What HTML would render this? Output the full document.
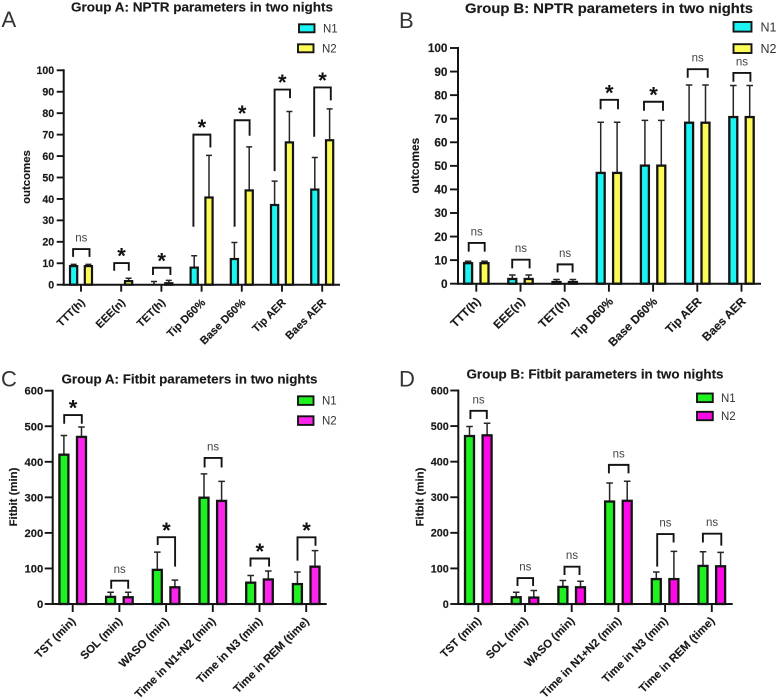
<!DOCTYPE html>
<html lang="en">
<head>
<meta charset="utf-8">
<title>NPTR and Fitbit parameters in two nights</title>
<style>
html,body{margin:0;padding:0;background:#fff;}
body{width:777px;height:698px;overflow:hidden;}
svg{display:block;filter:blur(0.35px);}
text{font-family:"Liberation Sans",sans-serif;fill:#1a1a1a;}
.t{font-weight:bold;stroke:#1a1a1a;stroke-width:0.15px;}
.l{fill:#333;}
</style>
</head>
<body>
<svg id="fig" xmlns="http://www.w3.org/2000/svg" width="777" height="698" viewBox="0 0 777 698">
<text class="l" x="1.5" y="27" font-size="22">A</text>
<text class="l" x="399" y="28" font-size="22">B</text>
<text class="l" x="1" y="386.5" font-size="22">C</text>
<text class="l" x="399" y="386.5" font-size="22">D</text>
<text class="t" x="202" y="11.5" font-size="12.6" text-anchor="middle" textLength="262" lengthAdjust="spacingAndGlyphs">Group A: NPTR parameters in two nights</text>
<text class="t" x="609" y="13" font-size="13.6" text-anchor="middle" textLength="288" lengthAdjust="spacingAndGlyphs">Group B: NPTR parameters in two nights</text>
<text class="t" x="189.5" y="383.5" font-size="12.6" text-anchor="middle" textLength="256" lengthAdjust="spacingAndGlyphs">Group A: Fitbit parameters in two nights</text>
<text class="t" x="595" y="378.5" font-size="12.6" text-anchor="middle" textLength="257" lengthAdjust="spacingAndGlyphs">Group B: Fitbit parameters in two nights</text>
</svg>
<script>
// ---- Panel A data ----
const aCategories = ["TTT(h)","EEE(n)","TET(h)","Tip D60%","Base D60%","Tip AER","Baes AER"];
const aN1 = [9,0,0.3,8.3,12.3,37.5,44.7];
const aN2 = [9,2,1,41,44.3,66.7,67.7];
const aN1Upper = [9.5,0,1.5,13.5,19.7,48.3,59.3];
const aN2Upper = [9.5,3,2,60.3,64.3,80.8,82];
const aSig = ["ns","*","*","*","*","*","*"];
const aBracketTop = [16.6,10.1,7.9,70,76.7,91,92];
const aBracketLeft = [13,6.5,4.5,27,27,53,69];
const aBracketRight = [13,6.5,4.5,64,69.5,87,86];
const aTicks = [0,10,20,30,40,50,60,70,80,90,100];

// ---- Panel B data ----
const bCategories = ["TTT(h)","EEE(n)","TET(h)","Tip D60%","Base D60%","Tip AER","Baes AER"];
const bN1 = [9,2.3,1,47.3,50.4,68.6,71];
const bN2 = [9,2.3,1,47.3,50.4,68.6,71];
const bN1Upper = [9.5,3.7,1.8,68.5,69.3,84.3,84.1];
const bN2Upper = [9.5,3.7,1.8,68.5,69.3,84.3,84.1];
const bSig = ["ns","ns","ns","*","*","ns","ns"];
const bBracketTop = [17.3,10.2,8.2,78,77.2,91,89.4];
const bBracketLeft = [13.6,6.5,4.8,74,73.4,87.4,85.7];
const bBracketRight = [13.6,6.5,4.8,74,73.4,87.4,85.7];
const bTicks = [0,10,20,30,40,50,60,70,80,90,100];

// ---- Panel C data ----
const cCategories = ["TST (min)","SOL (min)","WASO (min)","Time in N1+N2 (min)","Time in N3 (min)","Time in REM (time)"];
const cN1 = [422,22,98,301,62,58];
const cN2 = [472,21,49,292,71,107];
const cN1Upper = [474,33,146,366,80,90];
const cN2Upper = [498,33,67,345,93,150];
const cSig = ["*","ns","*","ns","*","*"];
const cBracketTop = [531.6,65.6,188,411,128,187.5];
const cBracketLeft = [507,43,166,384,105,122];
const cBracketRight = [507,43,105,384,105,164];
const cTicks = [0,100,200,300,400,500,600];

// ---- Panel D data ----
const dCategories = ["TST (min)","SOL (min)","WASO (min)","Time in N1+N2 (min)","Time in N3 (min)","Time in REM (time)"];
const dN1 = [474,21,50,290,72,109];
const dN2 = [476,20,49,292,72,108];
const dN1Upper = [499,33,66,340,90,147];
const dN2Upper = [508,38,64,345,148,145];
const dSig = ["ns","ns","ns","ns","ns","ns"];
const dBracketTop = [543,73,105,391,196.6,197.5];
const dBracketLeft = [520,50.6,81.5,367,105,173];
const dBracketRight = [520,50.6,81.5,367,173,164];
const dTicks = [0,100,200,300,400,500,600];

const seriesNames = ["N1","N2"];

const svg = document.getElementById('fig');
const NS = 'http://www.w3.org/2000/svg';
const INK = '#141414';

function mk(parent, tag, attrs, txt) {
  const e = document.createElementNS(NS, tag);
  for (const k in attrs) e.setAttribute(k, attrs[k]);
  if (txt !== undefined) e.textContent = txt;
  parent.appendChild(e);
  return e;
}

function drawPanel(p) {
  const g = mk(svg, 'g', {});
  
  
  const yMax = p.ticks[p.ticks.length - 1];
  const yScale = v => p.y0 - (v / yMax) * (p.y0 - p.yTop);
  const xScale = i => p.x1st + i * p.step;

  // bars and error bars
  p.categories.forEach((cat, i) => {
    [[p.n1, p.n1Upper, -p.off, p.colors[0], 'n1'], [p.n2, p.n2Upper, p.off, p.colors[1], 'n2']].forEach(s => {
      const v = s[0][i], up = s[1][i], cx = xScale(i) + s[2];
      if (up > v) {
        const eb = mk(g, 'path', {
          d: 'M' + cx + ' ' + yScale(v) + 'V' + yScale(up) + 'M' + (cx - p.cap) + ' ' + yScale(up) + 'H' + (cx + p.cap),
          fill: 'none', stroke: '#262626', 'stroke-width': 1.5
        });
        
        
      }
      if (v > 0) {
        const top = Math.min(yScale(v) + 0.7, p.y0);
        const bar = mk(g, 'rect', {
          x: cx - p.barW / 2, y: top, width: p.barW, height: p.y0 - top,
          fill: s[3], stroke: INK, 'stroke-width': p.barStroke
        });
        
        
      }
    });
  });

  // axes
  const yAxis = mk(g, 'path', {
    d: 'M' + p.x0 + ' ' + (p.y0 + 1) + 'V' + (p.yTop - 1), fill: 'none', stroke: INK, 'stroke-width': 2
  });
  
  
  const xAxis = mk(g, 'path', {
    d: 'M' + p.x0 + ' ' + p.y0 + 'H' + p.xEnd, fill: 'none', stroke: INK, 'stroke-width': 2
  });
  
  

  // y ticks
  p.ticks.forEach(t => {
    const y = yScale(t);
    const tk = mk(g, 'path', {d: 'M' + (p.x0 - p.tickLen) + ' ' + y + 'H' + p.x0, stroke: INK, 'stroke-width': 1.9, fill: 'none'});
    
    
    const lb = mk(g, 'text', {x: p.x0 - p.tickLen - p.labelGap, y: y + p.yFont * 0.36, 'font-size': p.yFont, 'text-anchor': 'end', 'class': 't'}, String(t));
    
    
  });

  // x ticks and labels
  p.categories.forEach((cat, i) => {
    const x = xScale(i);
    const tk = mk(g, 'path', {d: 'M' + x + ' ' + p.y0 + 'V' + (p.y0 + p.tickLen), stroke: INK, 'stroke-width': 1.9, fill: 'none'});
    
    
    const lx = x + p.labDx, ly = p.y0 + p.labDy;
    const lb = mk(g, 'text', {x: lx, y: ly, 'font-size': p.xFont, 'text-anchor': 'end', 'class': 't', transform: 'rotate(-45 ' + lx + ' ' + ly + ')'}, cat);
    
    
  });

  // axis title
  const at = mk(g, 'text', {x: p.titleX, y: p.titleY, 'font-size': p.titleFont, 'text-anchor': 'middle', 'class': 't', transform: 'rotate(-90 ' + p.titleX + ' ' + p.titleY + ')'}, p.yTitle);
  
  

  // significance brackets
  p.categories.forEach((cat, i) => {
    const hw = p.brHalf[i], cx = xScale(i) + p.brShift;
    const yT = yScale(p.brTop[i]);
    const br = mk(g, 'path', {
      d: 'M' + (cx - hw) + ' ' + yScale(p.brLeft[i]) + 'V' + yT + 'H' + (cx + hw) + 'V' + yScale(p.brRight[i]),
      fill: 'none', stroke: INK, 'stroke-width': 1.9
    });
    
    
    const isStar = p.sig[i] === '*';
    const sg = mk(g, 'text', {
      x: cx, y: isStar ? yT + 0.6 : yT - 7.5, 'font-size': isStar ? 22 : 11.5, 'text-anchor': 'middle',
      style: isStar ? 'font-weight:bold;fill:#111' : 'fill:#444'
    }, p.sig[i]);
    
    
  });

  // legend
  p.legend.forEach((l, i) => {
    const sw = mk(g, 'rect', {x: l[0], y: l[1], width: l[2], height: l[3], fill: p.colors[i], stroke: INK, 'stroke-width': 1.9});
    
    
    const tx = mk(g, 'text', {x: l[4], y: l[1] + l[3] / 2 + p.legFont * 0.36, 'font-size': p.legFont, 'class': 'l'}, seriesNames[i]);
    
    
  });
}

drawPanel({
  id: 'a', categories: aCategories, n1: aN1, n2: aN2, n1Upper: aN1Upper, n2Upper: aN2Upper, sig: aSig,
  brTop: aBracketTop, brLeft: aBracketLeft, brRight: aBracketRight, ticks: aTicks,
  brHalf: [8.2,7.3,8.7,8.5,7.5,7.7,8.3], brShift: 0.3,
  x0: 63.7, xEnd: 340, y0: 284.7, yTop: 70.3, x1st: 81, step: 40.2, off: 7.4, barW: 7.2, barStroke: 2.2, cap: 3,
  tickLen: 7, labelGap: 2.5, yFont: 10.6, xFont: 11, labDx: 4.5, labDy: 18.5, titleX: 30, titleY: 177, titleFont: 11.4,
  yTitle: 'outcomes', colors: ['#1cf4f4', '#fdfb56'], legFont: 11.5,
  legend: [[299, 24.3, 15.5, 8, 323], [298, 44.3, 15.5, 8, 322]]
});
drawPanel({
  id: 'b', categories: bCategories, n1: bN1, n2: bN2, n1Upper: bN1Upper, n2Upper: bN2Upper, sig: bSig,
  brTop: bBracketTop, brLeft: bBracketLeft, brRight: bBracketRight, ticks: bTicks,
  brHalf: [8,8.7,7.5,8.7,9.5,10,8.5], brShift: 0.4,
  x0: 458, xEnd: 761, y0: 283.7, yTop: 48, x1st: 476.3, step: 44.2, off: 8.2, barW: 8, barStroke: 2.3, cap: 3.3,
  tickLen: 8, labelGap: 2.5, yFont: 11.8, xFont: 11.8, labDx: 5, labDy: 18.5, titleX: 419, titleY: 165.7, titleFont: 11.8,
  yTitle: 'outcomes', colors: ['#1cf4f4', '#fdfb56'], legFont: 12.5,
  legend: [[733.5, 22, 18, 9.6, 760.5], [733.5, 44.2, 18, 8.8, 760.5]]
});
drawPanel({
  id: 'c', categories: cCategories, n1: cN1, n2: cN2, n1Upper: cN1Upper, n2Upper: cN2Upper, sig: cSig,
  brTop: cBracketTop, brLeft: cBracketLeft, brRight: cBracketRight, ticks: cTicks,
  brHalf: [8.8,8.5,8.7,8.5,9.3,9], brShift: 0.3,
  x0: 52.7, xEnd: 326.7, y0: 604, yTop: 390.7, x1st: 72.7, step: 46.7, off: 8.8, barW: 9, barStroke: 2.3, cap: 3.3,
  tickLen: 8, labelGap: 1.5, yFont: 11.2, xFont: 11.3, labDx: 3.5, labDy: 18, titleX: 17, titleY: 497, titleFont: 11.4,
  yTitle: 'Fitbit (min)', colors: ['#1ff01f', '#fb25ec'], legFont: 11.5,
  legend: [[298, 396.3, 15.5, 8.6, 322], [298, 416.3, 15.5, 8.6, 322]]
});
drawPanel({
  id: 'd', categories: dCategories, n1: dN1, n2: dN2, n1Upper: dN1Upper, n2Upper: dN2Upper, sig: dSig,
  brTop: dBracketTop, brLeft: dBracketLeft, brRight: dBracketRight, ticks: dTicks,
  brHalf: [8.2,7.8,7.5,9.8,8.2,9.2], brShift: 0.3,
  x0: 458.3, xEnd: 732.7, y0: 604, yTop: 390.5, x1st: 478.3, step: 46.7, off: 8.8, barW: 9, barStroke: 2.3, cap: 3.3,
  tickLen: 8, labelGap: 1.5, yFont: 10.8, xFont: 11.3, labDx: 3.5, labDy: 17.5, titleX: 423.5, titleY: 497, titleFont: 11.4,
  yTitle: 'Fitbit (min)', colors: ['#1ff01f', '#ff08e8'], legFont: 11.5,
  legend: [[697, 393.5, 15.8, 8.6, 721], [697, 411.8, 15.8, 8.4, 721]]
});
</script>
</body>
</html>
